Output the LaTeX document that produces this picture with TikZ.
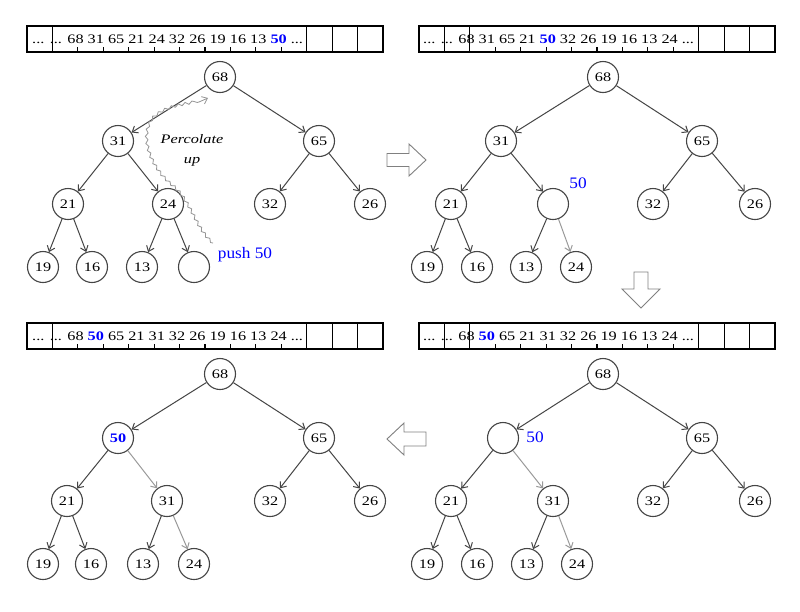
\documentclass[tikz,border=0pt]{standalone}
\usepackage{fontspec}
\setmainfont{Liberation Serif}[FakeStretch=1.25]
\newfontfamily\lblfont{Liberation Serif}[FakeStretch=1.08]
\usetikzlibrary{arrows.meta,decorations.pathmorphing}
\definecolor{edgegray}{HTML}{454545}
\definecolor{lightedge}{HTML}{9A9A9A}
\definecolor{wavegray}{HTML}{959595}
\definecolor{pureblue}{HTML}{0000FF}
\tikzset{
  hn/.style={circle, draw=edgegray, line width=1.1pt, minimum size=31pt, inner sep=0pt, font=\fontsize{13}{15}\selectfont},
  ed/.style={draw=edgegray, line width=1pt, -{Straight Barb[length=5pt,width=8pt]}},
  edl/.style={ed, draw=lightedge},
  blk/.style={draw=gray, line width=0.9pt, fill=white, line join=miter},
  arrline/.style={draw=black, line width=1.2pt},
  arrtxt/.style={anchor=west, inner sep=0pt, font=\fontsize{13}{15}\selectfont},
  lbl/.style={text=pureblue, inner sep=0pt, font=\lblfont\fontsize{16}{18}\selectfont},
  wave/.style={draw=wavegray, line width=0.8pt, decorate,
    decoration={snake, amplitude=1.3pt, segment length=7pt}},
  wavetip/.style={draw=wavegray, line width=0.8pt, -{Straight Barb[length=5pt,width=8pt]}}
}
\newcommand\heaparray[3]{%
  \draw[arrline] (#1,#2) rectangle ++(356,26);
  \foreach \k in {1,...,13} \draw[arrline] ({#1+25.43*\k},#2) -- ++(0,26);
  \fill[white] ({#1+#3},{#2+0.8}) rectangle ({#1+270},{#2+20.5});
}
\begin{document}
\begin{tikzpicture}[x=1pt,y=-1pt]
\useasboundingbox (0,0) rectangle (800,611);
\fill[white] (0,0) rectangle (800,611);

% ---------- arrays ----------
\heaparray{27}{26}{34}
\node[arrtxt] (ta) at (32,39) {... ... 68 31 65 21 24 32 26 19 16 13 \textcolor{pureblue}{\textbf{50}} ...};
\heaparray{419}{26}{73}
\node[arrtxt] (tb) at (423,39) {... ... 68 31 65 21 \textcolor{pureblue}{\textbf{50}} 32 26 19 16 13 24 ...};
\heaparray{27}{323}{34}
\node[arrtxt] (tc) at (32,336) {... ... 68 \textcolor{pureblue}{\textbf{50}} 65 21 31 32 26 19 16 13 24 ...};
\heaparray{419}{323}{73}
\node[arrtxt] (td) at (423,336) {... ... 68 \textcolor{pureblue}{\textbf{50}} 65 21 31 32 26 19 16 13 24 ...};

% ---------- panel 1 ----------
\node[hn] (a68) at (220,77) {68};
\node[hn] (a31) at (118,141) {31};
\node[hn] (a65) at (319,141) {65};
\node[hn] (a21) at (68,204) {21};
\node[hn] (a24) at (168,204) {24};
\node[hn] (a32) at (270,204) {32};
\node[hn] (a26) at (370,204) {26};
\node[hn] (a19) at (43,267) {19};
\node[hn] (a16) at (92,267) {16};
\node[hn] (a13) at (142,267) {13};
\node[hn] (ae) at (194,267) {};
\draw[ed] (a68) -- (a31);
\draw[ed] (a68) -- (a65);
\draw[ed] (a31) -- (a21);
\draw[ed] (a31) -- (a24);
\draw[ed] (a65) -- (a32);
\draw[ed] (a65) -- (a26);
\draw[ed] (a21) -- (a19);
\draw[ed] (a21) -- (a16);
\draw[ed] (a24) -- (a13);
\draw[ed] (a24) -- (ae);
\node[lbl] (push) at (245,255) {push 50};
\node[align=center, inner sep=0pt, font=\itshape\fontsize{13}{20}\selectfont] (perc) at (192,150) {Percolate\\up};
\coordinate (ws) at (213,243);
\coordinate (wm) at (199,102);
\coordinate (we) at (208,98);
\draw[wave] (ws) .. controls (196,228) and (192,200) .. (172,185)
  .. controls (150,166) and (140,135) .. (155,118)
  .. controls (168,106) and (185,106) .. (wm);
\draw[wavetip] (wm) -- (we);

% ---------- panel 2 ----------
\begin{scope}[shift={(383,0)}]
\node[hn] (b68) at (220,77) {68};
\node[hn] (b31) at (118,141) {31};
\node[hn] (b65) at (319,141) {65};
\node[hn] (b21) at (68,204) {21};
\node[hn] (be) at (170,204) {};
\node[hn] (b32) at (270,204) {32};
\node[hn] (b26) at (372,204) {26};
\node[hn] (b19) at (44,267) {19};
\node[hn] (b16) at (94,267) {16};
\node[hn] (b13) at (143,267) {13};
\node[hn] (b24) at (193,267) {24};
\end{scope}
\draw[ed] (b68) -- (b31);
\draw[ed] (b68) -- (b65);
\draw[ed] (b31) -- (b21);
\draw[ed] (b31) -- (be);
\draw[ed] (b65) -- (b32);
\draw[ed] (b65) -- (b26);
\draw[ed] (b21) -- (b19);
\draw[ed] (b21) -- (b16);
\draw[ed] (be) -- (b13);
\draw[edl] (be) -- (b24);
\node[lbl] (bl) at (578,183) {50};

% ---------- panel 3 ----------
\begin{scope}[shift={(0,297)}]
\node[hn] (c68) at (220,77) {68};
\node[hn, text=pureblue, font=\bfseries\fontsize{13}{15}\selectfont] (c50) at (118,141) {50};
\node[hn] (c65) at (319,141) {65};
\node[hn] (c21) at (67,204) {21};
\node[hn] (c31) at (167,204) {31};
\node[hn] (c32) at (270,204) {32};
\node[hn] (c26) at (370,204) {26};
\node[hn] (c19) at (43,267) {19};
\node[hn] (c16) at (91,267) {16};
\node[hn] (c13) at (143,267) {13};
\node[hn] (c24) at (194,267) {24};
\end{scope}
\draw[ed] (c68) -- (c50);
\draw[ed] (c68) -- (c65);
\draw[ed] (c50) -- (c21);
\draw[edl] (c50) -- (c31);
\draw[ed] (c65) -- (c32);
\draw[ed] (c65) -- (c26);
\draw[ed] (c21) -- (c19);
\draw[ed] (c21) -- (c16);
\draw[ed] (c31) -- (c13);
\draw[edl] (c31) -- (c24);

% ---------- panel 4 ----------
\begin{scope}[shift={(383,297)}]
\node[hn] (d68) at (220,77) {68};
\node[hn] (de) at (120,141) {};
\node[hn] (d65) at (319,141) {65};
\node[hn] (d21) at (68,204) {21};
\node[hn] (d31) at (170,204) {31};
\node[hn] (d32) at (270,204) {32};
\node[hn] (d26) at (372,204) {26};
\node[hn] (d19) at (44,267) {19};
\node[hn] (d16) at (94,267) {16};
\node[hn] (d13) at (144,267) {13};
\node[hn] (d24) at (194,267) {24};
\end{scope}
\draw[ed] (d68) -- (de);
\draw[ed] (d68) -- (d65);
\draw[ed] (de) -- (d21);
\draw[edl] (de) -- (d31);
\draw[ed] (d65) -- (d32);
\draw[ed] (d65) -- (d26);
\draw[ed] (d21) -- (d19);
\draw[ed] (d21) -- (d16);
\draw[ed] (d31) -- (d13);
\draw[edl] (d31) -- (d24);
\node[lbl] (dl) at (535,437) {50};

% ---------- block arrows ----------
\draw[blk] (387,153.5) -- (409,153.5) -- (409,144) -- (426,160) -- (409,176) -- (409,166.5) -- (387,166.5) -- cycle;
\draw[blk] (634,272) -- (648,272) -- (648,289) -- (660,289) -- (641,308) -- (622,289) -- (634,289) -- cycle;
\draw[blk] (426,432) -- (404,432) -- (404,423) -- (387,439) -- (404,455) -- (404,446) -- (426,446) -- cycle;
\end{tikzpicture}
\end{document}
